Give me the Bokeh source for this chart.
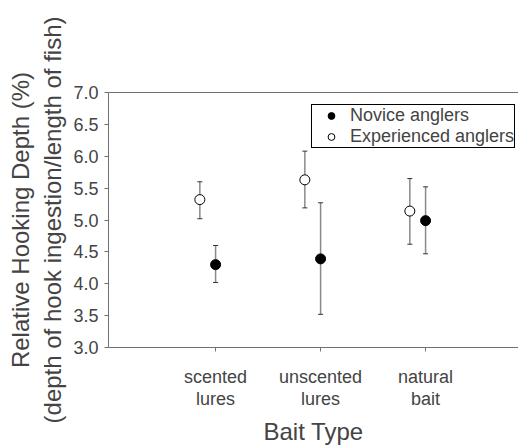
from bokeh.plotting import figure
from bokeh.models import (ColumnDataSource, Whisker, TeeHead, FixedTicker, LinearAxis,
                          Legend, LegendItem, Range1d, NumeralTickFormatter)
from bokeh.embed import file_html
from bokeh.resources import INLINE

categories = ["scented\nlures", "unscented\nlures", "natural\nbait"]
cat_pos = [1, 2, 3]
novice_mean = [4.30, 4.39, 4.99]
novice_upper = [4.60, 5.27, 5.52]
novice_lower = [4.02, 3.52, 4.47]
exp_mean = [5.32, 5.63, 5.14]
exp_upper = [5.60, 6.08, 5.65]
exp_lower = [5.02, 5.19, 4.62]
y_ticks = [3.0, 3.5, 4.0, 4.5, 5.0, 5.5, 6.0, 6.5, 7.0]
legend_labels = ["Novice anglers", "Experienced anglers"]

FONT = "Liberation Sans"
AX = "#707070"
exp_offset = -0.15

p = figure(frame_width=410, frame_height=255, output_backend="svg", toolbar_location=None,
           x_range=Range1d(-0.02, 3.885), y_range=Range1d(3.0, 7.0),
           min_border_left=108, min_border_right=0, min_border_top=92, min_border_bottom=80)
p.outline_line_color = None
p.grid.grid_line_color = None
p.background_fill_color = "white"

nov = ColumnDataSource(dict(x=cat_pos, y=novice_mean, up=novice_upper, lo=novice_lower))
exp = ColumnDataSource(dict(x=[c + exp_offset for c in cat_pos], y=exp_mean,
                            up=exp_upper, lo=exp_lower))

for src in (exp, nov):
    w = Whisker(base="x", upper="up", lower="lo", source=src, dimension="height",
                line_color="#8a8a8a", line_width=1.5,
                upper_head=TeeHead(size=5, line_color="#333333", line_width=1),
                lower_head=TeeHead(size=5, line_color="#333333", line_width=1))
    p.add_layout(w)

r_nov = p.scatter("x", "y", source=nov, size=10, marker="circle",
                  fill_color="black", line_color="black")
r_exp = p.scatter("x", "y", source=exp, size=10, marker="circle",
                  fill_color="white", line_color="black", line_width=1)

xa = p.xaxis[0]
xa.ticker = FixedTicker(ticks=cat_pos)
xa.major_label_overrides = {c: l for c, l in zip(cat_pos, categories)}
xa.axis_label = "Bait Type"
xa.axis_label_text_font = FONT
xa.axis_label_text_font_size = "24px"
xa.axis_label_text_font_style = "normal"
xa.axis_label_standoff = 6
xa.major_label_text_font = FONT
xa.major_label_text_font_size = "18px"
xa.major_label_text_line_height = 1.1
xa.major_label_standoff = 15
xa.axis_line_color = AX
xa.major_tick_line_color = AX
xa.major_tick_out = 4
xa.major_tick_in = 0
xa.minor_tick_line_color = None

ya = p.yaxis[0]
ya.ticker = FixedTicker(ticks=y_ticks)
ya.formatter = NumeralTickFormatter(format="0.0")
ya.axis_label = "Relative Hooking Depth (%)\n(depth of hook ingestion/length of fish)"
ya.axis_label_text_font = FONT
ya.axis_label_text_font_size = "24px"
ya.axis_label_text_font_style = "normal"
ya.axis_label_standoff = 4
ya.major_label_text_font = FONT
ya.major_label_text_font_size = "18px"
ya.major_label_standoff = 6
ya.axis_line_color = AX
ya.major_tick_line_color = AX
ya.major_tick_out = 4
ya.major_tick_in = 0
ya.minor_tick_line_color = None

top = LinearAxis(ticker=FixedTicker(ticks=[]), axis_line_color=AX,
                 major_label_text_color=None, major_tick_line_color=None,
                 minor_tick_line_color=None)
p.add_layout(top, "above")

legend = Legend(items=[LegendItem(label=legend_labels[0], renderers=[r_nov]),
                       LegendItem(label=legend_labels[1], renderers=[r_exp])],
                location=(203, 199), border_line_color="black", border_line_width=1,
                border_line_alpha=1, background_fill_color="white",
                label_text_font=FONT, label_text_font_size="18px",
                label_text_line_height=1.1,
                glyph_width=38, glyph_height=17, label_height=17,
                padding=0, spacing=0, label_standoff=0, margin=0)
p.add_layout(legend, "center")

open("out.html", "w").write(file_html(p, INLINE))
